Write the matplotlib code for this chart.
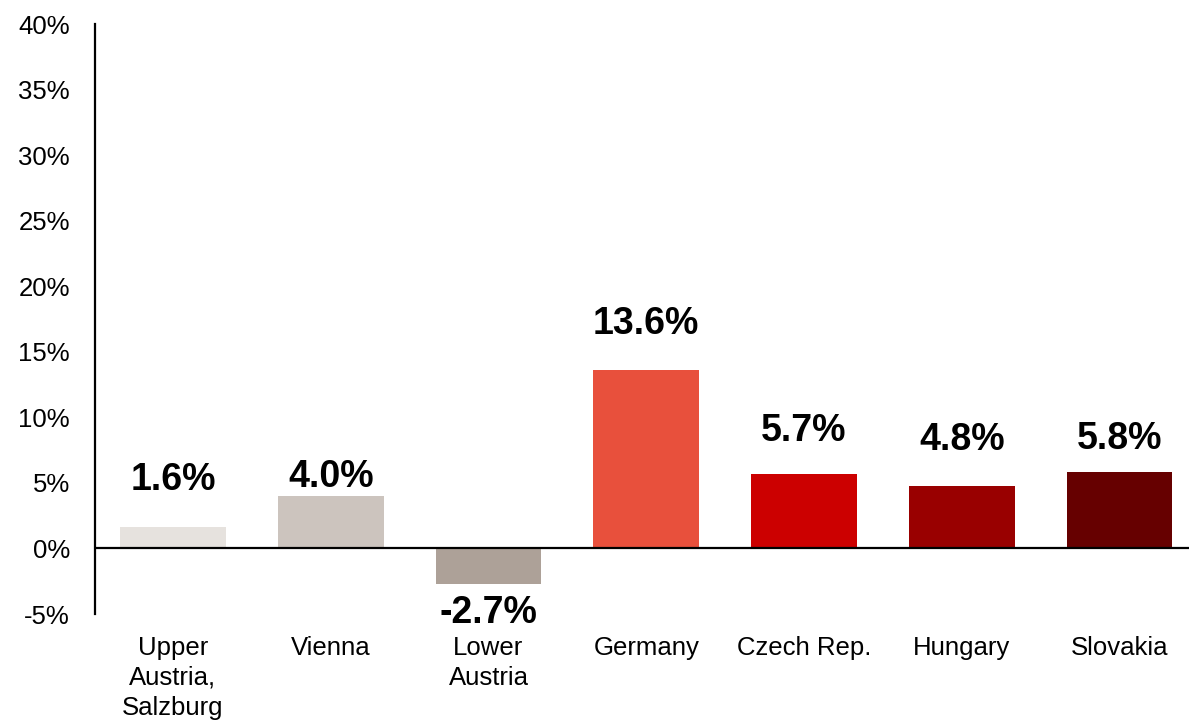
import matplotlib.pyplot as plt
from matplotlib.ticker import FuncFormatter

plt.rcParams["font.family"] = ["Liberation Sans", "DejaVu Sans"]

regions = ["Upper\nAustria,\nSalzburg", "Vienna", "Lower\nAustria", "Germany", "Czech Rep.", "Hungary", "Slovakia"]
growth = [1.6, 4.0, -2.7, 13.6, 5.7, 4.8, 5.8]
colors = ["#E6E2DE", "#CCC4BE", "#ADA198", "#E8503C", "#CC0000", "#990000", "#660000"]
# label offsets above bar ends (points), placed by hand in the original
label_offsets = [34, 14, -21, 33, 31, 33, 24]

fig = plt.figure(figsize=(11.89, 7.21), dpi=100)
ax = fig.add_axes([95 / 1189, 1 - 614 / 721, 1 - 95 / 1189, (614 - 24) / 721])

x = range(len(regions))
ax.bar(x, growth, width=0.67, color=colors, zorder=2)
ax.axhline(0, color="black", lw=1.6, zorder=3)

for xi, v, off in zip(x, growth, label_offsets):
    ax.annotate(f"{v:.1f}%", (xi, v), xytext=(0, off), textcoords="offset points",
                ha="center", va="center", fontsize=27, fontweight="bold")

ax.set_ylim(-5, 40)
ax.set_xlim(-0.494, 6.44)
ax.set_yticks(range(-5, 41, 5))
ax.yaxis.set_major_formatter(FuncFormatter(lambda v, _: f"{v:.0f}%"))
ax.set_xticks(list(x))
ax.set_xticklabels(regions, linespacing=1.3)
ax.tick_params(axis="y", length=0, pad=18, labelsize=18.5)
ax.tick_params(axis="x", length=0, pad=16, labelsize=18.5)

for s in ["top", "right", "bottom"]:
    ax.spines[s].set_visible(False)
ax.spines["left"].set_linewidth(1.6)

fig.savefig("out.png", dpi=100)
